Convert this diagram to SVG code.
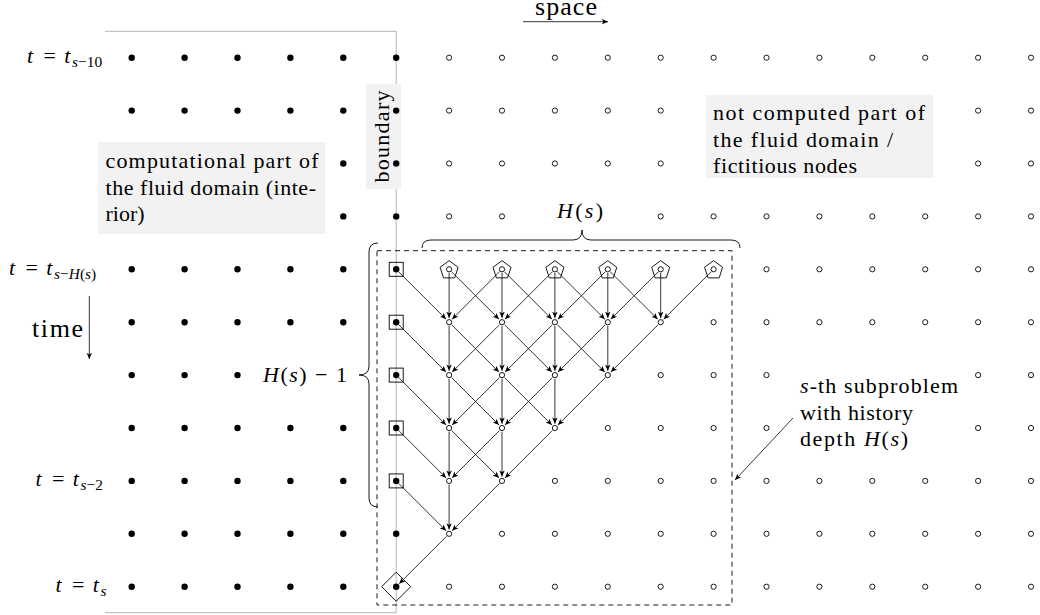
<svg xmlns="http://www.w3.org/2000/svg" xmlns:xlink="http://www.w3.org/1999/xlink" width="1040" height="615" viewBox="0 0 1040 615">
<style>
.tx{font-family:"Liberation Serif","Times New Roman",serif;font-size:22px;fill:#000}
.it{font-style:italic}
.big{font-size:26px}
.sub{font-size:15.4px}
.box{fill:#f2f2f2;stroke:none}
.gl{fill:none;stroke:#b5b5b5;stroke-width:1}
.ar{stroke:#000;stroke-width:0.8;fill:none;marker-end:url(#ah)}
.fd{fill:none;stroke:#000;stroke-width:6.4;stroke-linecap:round}
.sh{fill:none;stroke:#000;stroke-width:0.9}
.dash{fill:none;stroke:#000;stroke-width:0.9;stroke-dasharray:5 4}
.br{fill:none;stroke:#000;stroke-width:0.9}
</style>
<defs>
<marker id="ah" viewBox="-6.5 -3 7 6" refX="0" refY="0" markerWidth="7" markerHeight="6" orient="auto" markerUnits="userSpaceOnUse"><path d="M0,0 L-6.2,-2.7 L-4.6,0 L-6.2,2.7 Z" fill="#000"/></marker>
<circle id="o" r="2.6" fill="#fff" stroke="#000" stroke-width="0.9"/>
<circle id="f" r="3.2" fill="#000"/>
<line id="aV" class="ar" x1="0" y1="3.6" x2="0" y2="48.6"/>
<line id="aDR" class="ar" x1="2.5" y1="2.5" x2="49.9" y2="49.9"/>
<line id="aDL" class="ar" x1="-2.5" y1="2.5" x2="-49.9" y2="49.9"/>
<g id="pent"><polygon class="sh" fill="#fff" points="0,-8.6 9.03,-2.04 5.58,8.59 -5.58,8.59 -9.03,-2.04"/><use href="#o"/></g>
<g id="sq"><rect class="sh" x="-7" y="-7" width="14" height="14"/><use href="#f"/></g>
</defs>

<!-- boundary line and labels -->
<g id="boundary-line"><path class="gl" d="M105,31.3 H396.2 V612.7 H105"/></g>
<g id="boundary-label">
<rect class="box" x="366" y="84" width="35" height="105"/>
<text class="tx" transform="translate(389.4,136.5) rotate(-90)" text-anchor="middle" textLength="92" lengthAdjust="spacing">boundary</text>
</g>

<!-- background grid: filled (computational) nodes -->
<g id="interior-nodes">
<path class="fd" d="M131.7 57.7h0M184.6 57.7h0M237.5 57.7h0M290.4 57.7h0M343.3 57.7h0M396.2 57.7h0
M131.7 110.6h0M184.6 110.6h0M237.5 110.6h0M290.4 110.6h0M343.3 110.6h0M396.2 110.6h0
M343.3 163.5h0M396.2 163.5h0
M343.3 216.4h0M396.2 216.4h0
M131.7 269.3h0M184.6 269.3h0M237.5 269.3h0M290.4 269.3h0M343.3 269.3h0
M131.7 322.2h0M184.6 322.2h0M237.5 322.2h0M290.4 322.2h0M343.3 322.2h0
M131.7 375.1h0M184.6 375.1h0M237.5 375.1h0
M131.7 428h0M184.6 428h0M237.5 428h0M290.4 428h0M343.3 428h0
M131.7 480.9h0M184.6 480.9h0M237.5 480.9h0M290.4 480.9h0M343.3 480.9h0
M131.7 533.8h0M184.6 533.8h0M237.5 533.8h0M290.4 533.8h0M343.3 533.8h0M396.2 533.8h0
M131.7 586.7h0M184.6 586.7h0M237.5 586.7h0M290.4 586.7h0M343.3 586.7h0"/>
</g>

<!-- background grid: fictitious nodes -->
<g id="fictitious-nodes">
<g transform="translate(0,57.7)"><use href="#o" x="449.1"/><use href="#o" x="502"/><use href="#o" x="554.9"/><use href="#o" x="607.8"/><use href="#o" x="660.7"/><use href="#o" x="713.6"/><use href="#o" x="766.5"/><use href="#o" x="819.4"/><use href="#o" x="872.3"/><use href="#o" x="925.2"/><use href="#o" x="978.1"/><use href="#o" x="1031"/></g>
<g transform="translate(0,110.6)"><use href="#o" x="449.1"/><use href="#o" x="502"/><use href="#o" x="554.9"/><use href="#o" x="607.8"/><use href="#o" x="660.7"/><use href="#o" x="978.1"/><use href="#o" x="1031"/></g>
<g transform="translate(0,163.5)"><use href="#o" x="449.1"/><use href="#o" x="502"/><use href="#o" x="554.9"/><use href="#o" x="607.8"/><use href="#o" x="660.7"/><use href="#o" x="978.1"/><use href="#o" x="1031"/></g>
<g transform="translate(0,216.4)"><use href="#o" x="449.1"/><use href="#o" x="502"/><use href="#o" x="660.7"/><use href="#o" x="713.6"/><use href="#o" x="766.5"/><use href="#o" x="819.4"/><use href="#o" x="872.3"/><use href="#o" x="925.2"/><use href="#o" x="978.1"/><use href="#o" x="1031"/></g>
<g transform="translate(0,269.3)"><use href="#o" x="766.5"/><use href="#o" x="819.4"/><use href="#o" x="872.3"/><use href="#o" x="925.2"/><use href="#o" x="978.1"/><use href="#o" x="1031"/></g>
<g transform="translate(0,322.2)"><use href="#o" x="713.6"/><use href="#o" x="766.5"/><use href="#o" x="819.4"/><use href="#o" x="872.3"/><use href="#o" x="925.2"/><use href="#o" x="978.1"/><use href="#o" x="1031"/></g>
<g transform="translate(0,375.1)"><use href="#o" x="660.7"/><use href="#o" x="713.6"/><use href="#o" x="766.5"/><use href="#o" x="978.1"/><use href="#o" x="1031"/></g>
<g transform="translate(0,428)"><use href="#o" x="607.8"/><use href="#o" x="660.7"/><use href="#o" x="713.6"/><use href="#o" x="766.5"/><use href="#o" x="978.1"/><use href="#o" x="1031"/></g>
<g transform="translate(0,480.9)"><use href="#o" x="554.9"/><use href="#o" x="607.8"/><use href="#o" x="660.7"/><use href="#o" x="713.6"/><use href="#o" x="766.5"/><use href="#o" x="819.4"/><use href="#o" x="872.3"/><use href="#o" x="925.2"/><use href="#o" x="978.1"/><use href="#o" x="1031"/></g>
<g transform="translate(0,533.8)"><use href="#o" x="502"/><use href="#o" x="554.9"/><use href="#o" x="607.8"/><use href="#o" x="660.7"/><use href="#o" x="713.6"/><use href="#o" x="766.5"/><use href="#o" x="819.4"/><use href="#o" x="872.3"/><use href="#o" x="925.2"/><use href="#o" x="978.1"/><use href="#o" x="1031"/></g>
<g transform="translate(0,586.7)"><use href="#o" x="449.1"/><use href="#o" x="502"/><use href="#o" x="554.9"/><use href="#o" x="607.8"/><use href="#o" x="660.7"/><use href="#o" x="713.6"/><use href="#o" x="766.5"/><use href="#o" x="819.4"/><use href="#o" x="872.3"/><use href="#o" x="925.2"/><use href="#o" x="978.1"/><use href="#o" x="1031"/></g>
</g>

<!-- text boxes -->
<g id="interior-label">
<rect class="box" x="98" y="142" width="227" height="92"/>
<text class="tx" x="105.5" y="168" textLength="213" lengthAdjust="spacing">computational part of</text>
<text class="tx" x="105.5" y="194.5" textLength="210.5" lengthAdjust="spacing">the fluid domain (inte-</text>
<text class="tx" x="105.5" y="221">rior)</text>
</g>
<g id="fictitious-label">
<rect class="box" x="706" y="95" width="227" height="83"/>
<text class="tx" x="713" y="120" textLength="212" lengthAdjust="spacing">not computed part of</text>
<text class="tx" x="713" y="146.5" textLength="180" lengthAdjust="spacing">the fluid domain /</text>
<text class="tx" x="713" y="173" textLength="144" lengthAdjust="spacing">fictitious nodes</text>
</g>

<!-- subproblem frame and braces -->
<g id="subproblem-frame"><rect class="dash" x="377" y="250.7" width="355" height="354.3"/></g>
<g id="brace-top">
<path class="br" d="M422,248 Q422,240 431,240 L573,240 Q582,240 582,230 Q582,240 591,240 L731,240 Q740,240 740,248"/>
<text class="tx" x="557" y="218" textLength="46" lengthAdjust="spacing"><tspan class="it">H</tspan>(<tspan class="it">s</tspan>)</text>
</g>
<g id="brace-left">
<path class="br" d="M378,243 Q369,243 369,252 L369,366 Q369,375 359,375 Q369,375 369,384 L369,498 Q369,507 378,507"/>
<text class="tx" x="263" y="382" textLength="84" lengthAdjust="spacing"><tspan class="it">H</tspan>(<tspan class="it">s</tspan>) − 1</text>
</g>

<!-- connectors -->
<g id="connectors">
<g transform="translate(0,269.3)">
<use href="#aDR" x="396.2"/>
<use href="#aV" x="449.1"/><use href="#aDR" x="449.1"/>
<use href="#aDL" x="502"/><use href="#aV" x="502"/><use href="#aDR" x="502"/>
<use href="#aDL" x="554.9"/><use href="#aV" x="554.9"/><use href="#aDR" x="554.9"/>
<use href="#aDL" x="607.8"/><use href="#aV" x="607.8"/><use href="#aDR" x="607.8"/>
<use href="#aDL" x="660.7"/><use href="#aV" x="660.7"/>
<use href="#aDL" x="713.6"/>
</g>
<g transform="translate(0,322.2)">
<use href="#aDR" x="396.2"/>
<use href="#aV" x="449.1"/><use href="#aDR" x="449.1"/>
<use href="#aDL" x="502"/><use href="#aV" x="502"/><use href="#aDR" x="502"/>
<use href="#aDL" x="554.9"/><use href="#aV" x="554.9"/><use href="#aDR" x="554.9"/>
<use href="#aDL" x="607.8"/><use href="#aV" x="607.8"/>
<use href="#aDL" x="660.7"/>
</g>
<g transform="translate(0,375.1)">
<use href="#aDR" x="396.2"/>
<use href="#aV" x="449.1"/><use href="#aDR" x="449.1"/>
<use href="#aDL" x="502"/><use href="#aV" x="502"/><use href="#aDR" x="502"/>
<use href="#aDL" x="554.9"/><use href="#aV" x="554.9"/>
<use href="#aDL" x="607.8"/>
</g>
<g transform="translate(0,428)">
<use href="#aDR" x="396.2"/>
<use href="#aV" x="449.1"/><use href="#aDR" x="449.1"/>
<use href="#aDL" x="502"/><use href="#aV" x="502"/>
<use href="#aDL" x="554.9"/>
</g>
<g transform="translate(0,480.9)">
<use href="#aDR" x="396.2"/>
<use href="#aV" x="449.1"/>
<use href="#aDL" x="502"/>
</g>
<g transform="translate(0,533.8)">
<use href="#aDL" x="449.1"/>
</g>
<line class="ar" x1="793" y1="418" x2="735" y2="480"/>
<line class="ar" x1="523" y1="21.7" x2="608" y2="21.7"/>
<line class="ar" x1="89.3" y1="296" x2="89.3" y2="359"/>
</g>

<!-- boundary nodes (history values) -->
<g id="n-b4" transform="translate(396.2,269.3)"><use href="#sq"/></g>
<g id="n-b5" transform="translate(396.2,322.2)"><use href="#sq"/></g>
<g id="n-b6" transform="translate(396.2,375.1)"><use href="#sq"/></g>
<g id="n-b7" transform="translate(396.2,428)"><use href="#sq"/></g>
<g id="n-b8" transform="translate(396.2,480.9)"><use href="#sq"/></g>
<g id="n-target" transform="translate(396.2,586.7)"><polygon class="sh" points="0,-14.5 14.5,0 0,14.5 -14.5,0"/><use href="#f"/></g>

<!-- pentagon nodes (initial values) -->
<g id="n-p6" transform="translate(449.1,269.3)"><use href="#pent"/></g>
<g id="n-p7" transform="translate(502,269.3)"><use href="#pent"/></g>
<g id="n-p8" transform="translate(554.9,269.3)"><use href="#pent"/></g>
<g id="n-p9" transform="translate(607.8,269.3)"><use href="#pent"/></g>
<g id="n-p10" transform="translate(660.7,269.3)"><use href="#pent"/></g>
<g id="n-p11" transform="translate(713.6,269.3)"><use href="#pent"/></g>

<!-- computed triangle nodes -->
<g id="n-5-6"><use href="#o" x="449.1" y="322.2"/></g>
<g id="n-5-7"><use href="#o" x="502" y="322.2"/></g>
<g id="n-5-8"><use href="#o" x="554.9" y="322.2"/></g>
<g id="n-5-9"><use href="#o" x="607.8" y="322.2"/></g>
<g id="n-5-10"><use href="#o" x="660.7" y="322.2"/></g>
<g id="n-6-6"><use href="#o" x="449.1" y="375.1"/></g>
<g id="n-6-7"><use href="#o" x="502" y="375.1"/></g>
<g id="n-6-8"><use href="#o" x="554.9" y="375.1"/></g>
<g id="n-6-9"><use href="#o" x="607.8" y="375.1"/></g>
<g id="n-7-6"><use href="#o" x="449.1" y="428"/></g>
<g id="n-7-7"><use href="#o" x="502" y="428"/></g>
<g id="n-7-8"><use href="#o" x="554.9" y="428"/></g>
<g id="n-8-6"><use href="#o" x="449.1" y="480.9"/></g>
<g id="n-8-7"><use href="#o" x="502" y="480.9"/></g>
<g id="n-9-6"><use href="#o" x="449.1" y="533.8"/></g>

<!-- axis and time labels -->
<g id="label-space"><text class="tx big" x="535" y="14.5" textLength="62" lengthAdjust="spacing">space</text></g>
<g id="label-time"><text class="tx big" x="32" y="337" textLength="51" lengthAdjust="spacing">time</text></g>
<g id="label-t0"><text class="tx" y="63.2"><tspan x="27" class="it">t</tspan><tspan x="43.4">=</tspan><tspan x="64.2" class="it">t</tspan><tspan x="72.1" dy="3.5" class="sub"><tspan class="it">s</tspan>−10</tspan></text></g>
<g id="label-t4"><text class="tx" y="274.8"><tspan x="9" class="it">t</tspan><tspan x="25.4">=</tspan><tspan x="46.2" class="it">t</tspan><tspan x="54.1" dy="3.8" class="sub"><tspan class="it">s</tspan>−<tspan class="it">H</tspan>(<tspan class="it">s</tspan>)</tspan></text></g>
<g id="label-t8"><text class="tx" y="486.4"><tspan x="35.5" class="it">t</tspan><tspan x="51.9">=</tspan><tspan x="72.7" class="it">t</tspan><tspan x="80.6" dy="3.5" class="sub"><tspan class="it">s</tspan>−2</tspan></text></g>
<g id="label-t10"><text class="tx" y="592.2"><tspan x="55.5" class="it">t</tspan><tspan x="71.9">=</tspan><tspan x="92.7" class="it">t</tspan><tspan x="100.6" dy="3.5" class="sub it">s</tspan></text></g>

<!-- subproblem annotation -->
<g id="label-subproblem">
<text class="tx" x="800" y="393" textLength="158" lengthAdjust="spacing"><tspan class="it">s</tspan>-th subproblem</text>
<text class="tx" x="800" y="419.5" textLength="113" lengthAdjust="spacing">with history</text>
<text class="tx" x="800" y="446" textLength="108" lengthAdjust="spacing">depth <tspan class="it">H</tspan>(<tspan class="it">s</tspan>)</text>
</g>
</svg>
